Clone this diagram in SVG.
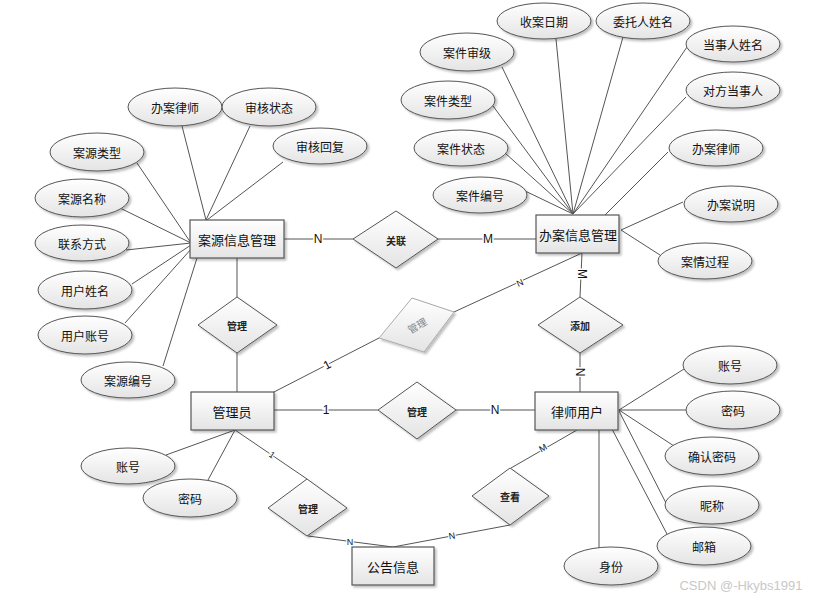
<svg xmlns="http://www.w3.org/2000/svg" width="822" height="605" viewBox="0 0 822 605">
<defs>
<linearGradient id="g" x1="0" y1="0" x2="0" y2="1">
<stop offset="0" stop-color="#ffffff"/>
<stop offset="1" stop-color="#e4e4e4"/>
</linearGradient>
<filter id="sh" x="-20%" y="-20%" width="140%" height="150%">
<feDropShadow dx="2" dy="2" stdDeviation="1" flood-color="#000" flood-opacity="0.25"/>
</filter>
</defs>
<style>
.e{fill:url(#g);stroke:#555;stroke-width:1;filter:url(#sh)}
.r{fill:url(#g);stroke:#555;stroke-width:1.2;filter:url(#sh)}
.d{fill:url(#g);stroke:#555;stroke-width:1;filter:url(#sh)}
.df{fill:url(#g);stroke:#aaa;stroke-width:1;filter:url(#sh)}
.t{font-family:"Noto Sans CJK SC","Liberation Sans",sans-serif;font-size:12px;fill:#111;text-anchor:middle;dominant-baseline:central}
.te{font-family:"Noto Sans CJK SC","Liberation Sans",sans-serif;font-size:13px;fill:#111;text-anchor:middle;dominant-baseline:central}
.td{font-family:"Noto Sans CJK SC","Liberation Sans",sans-serif;font-size:10px;font-weight:bold;fill:#222;text-anchor:middle;dominant-baseline:central}
.l{font-family:"Liberation Sans",sans-serif;font-size:12px;fill:#111;text-anchor:middle;dominant-baseline:central;stroke:#fff;stroke-width:3;paint-order:stroke}
.ls{font-family:"Liberation Sans",sans-serif;font-size:9px;fill:#111;text-anchor:middle;dominant-baseline:central;stroke:#fff;stroke-width:2.5;paint-order:stroke}
#connectors line{stroke:#555;stroke-width:1}
</style>
<rect width="822" height="605" fill="#fff"/>

<g id="connectors">
<!-- 案源信息管理 attributes -->
<line x1="182" y1="126" x2="206" y2="220"/>
<line x1="250" y1="126" x2="206" y2="220"/>
<line x1="283" y1="162" x2="207" y2="220"/>
<line x1="137" y1="163" x2="191" y2="243"/>
<line x1="120" y1="208" x2="191" y2="243"/>
<line x1="126" y1="250" x2="191" y2="243"/>
<line x1="132" y1="284" x2="191" y2="245"/>
<line x1="125" y1="323" x2="192" y2="248"/>
<line x1="163" y1="366" x2="197" y2="258"/>
<!-- 办案信息管理 attributes -->
<line x1="556" y1="39" x2="573" y2="214"/>
<line x1="623" y1="37" x2="573" y2="214"/>
<line x1="687" y1="47" x2="573" y2="214"/>
<line x1="502" y1="67" x2="573" y2="214"/>
<line x1="686" y1="97" x2="573" y2="214"/>
<line x1="493" y1="106" x2="573" y2="214"/>
<line x1="505" y1="153" x2="573" y2="214"/>
<line x1="668" y1="152" x2="605" y2="215"/>
<line x1="523" y1="190" x2="573" y2="214"/>
<line x1="683" y1="202" x2="621" y2="230"/>
<line x1="660" y1="255" x2="621" y2="230"/>
<!-- relationships -->
<line x1="284" y1="239" x2="353" y2="239"/>
<line x1="438" y1="239" x2="536" y2="239"/>
<line x1="582" y1="253" x2="580" y2="297"/>
<line x1="580" y1="353" x2="580" y2="392"/>
<line x1="274" y1="392" x2="379" y2="338"/>
<line x1="454" y1="312" x2="582" y2="253"/>
<line x1="274" y1="410" x2="378" y2="410"/>
<line x1="456" y1="410" x2="535" y2="410"/>
<line x1="237" y1="258" x2="237" y2="297"/>
<line x1="237" y1="353" x2="237" y2="392"/>
<line x1="235" y1="430" x2="307" y2="479"/>
<line x1="308" y1="536" x2="393" y2="547"/>
<line x1="577" y1="430" x2="511" y2="468"/>
<line x1="510" y1="525" x2="393" y2="547"/>
<!-- 管理员 attributes -->
<line x1="166" y1="455" x2="235" y2="430"/>
<line x1="208" y1="480" x2="235" y2="430"/>
<!-- 律师用户 attributes -->
<line x1="684" y1="369" x2="619" y2="410"/>
<line x1="686" y1="410" x2="619" y2="410"/>
<line x1="674" y1="446" x2="619" y2="410"/>
<line x1="666" y1="503" x2="619" y2="411"/>
<line x1="667" y1="534" x2="612" y2="429"/>
<line x1="599" y1="429" x2="599" y2="548"/>
</g>

<g id="labels">
<text class="l" x="318" y="239">N</text>
<text class="l" x="488" y="239">M</text>
<text class="l" transform="translate(582,274) rotate(90)">M</text>
<text class="l" transform="translate(580,372) rotate(90)">N</text>
<text class="l" transform="translate(327,365) rotate(-28)">1</text>
<text class="ls" transform="translate(520,283) rotate(-25)">N</text>
<text class="l" x="326" y="410">1</text>
<text class="l" x="495" y="410">N</text>
<text class="ls" transform="translate(272,455) rotate(34)">1</text>
<text class="ls" x="350" y="542">N</text>
<text class="ls" transform="translate(543,448) rotate(-30)">M</text>
<text class="ls" transform="translate(452,536) rotate(-10)">N</text>
</g>

<!-- entities -->
<g id="e-anyuan"><rect class="r" x="190" y="220" width="94" height="38"/><text class="te" x="237" y="239">案源信息管理</text></g>
<g id="e-banan"><rect class="r" x="536" y="215" width="83" height="38"/><text class="te" x="578" y="234">办案信息管理</text></g>
<g id="e-admin"><rect class="r" x="191" y="392" width="83" height="38"/><text class="te" x="232" y="411">管理员</text></g>
<g id="e-lawyer"><rect class="r" x="535" y="392" width="83" height="38"/><text class="te" x="577" y="411">律师用户</text></g>
<g id="e-notice"><rect class="r" x="352" y="547" width="82" height="38"/><text class="te" x="393" y="566">公告信息</text></g>

<!-- relationships -->
<g id="r-guanlian"><polygon class="d" points="396,211 438,239 396,268 353,239"/><text class="td" x="396" y="240">关联</text></g>
<g id="r-guanli1"><polygon class="d" points="237,297 277,325 237,353 198,325"/><text class="td" x="237" y="325">管理</text></g>
<g id="r-guanli-faint"><polygon class="df" points="412,298 454,312 424,352 379,338"/><text class="td" style="fill:#888;font-weight:normal" transform="translate(417,325) rotate(-30)">管理</text></g>
<g id="r-tianjia"><polygon class="d" points="580,297 623,325 580,353 538,325"/><text class="td" x="580" y="325">添加</text></g>
<g id="r-guanli2"><polygon class="d" points="417,382 456,410 417,439 378,410"/><text class="td" x="417" y="411">管理</text></g>
<g id="r-guanli3"><polygon class="d" points="307,479 347,508 307,536 268,508"/><text class="td" x="308" y="508">管理</text></g>
<g id="r-chakan"><polygon class="d" points="510,468 549,496 510,525 472,496"/><text class="td" x="510" y="496">查看</text></g>

<!-- attributes of 案源信息管理 -->
<g id="a-blls1"><ellipse class="e" cx="175" cy="107" rx="47" ry="19"/><text class="t" x="175" y="107">办案律师</text></g>
<g id="a-shzt"><ellipse class="e" cx="269" cy="107" rx="47" ry="19"/><text class="t" x="269" y="107">审核状态</text></g>
<g id="a-shhf"><ellipse class="e" cx="320" cy="146" rx="47" ry="18"/><text class="t" x="320" y="146">审核回复</text></g>
<g id="a-aylx"><ellipse class="e" cx="97" cy="152" rx="47" ry="19"/><text class="t" x="97" y="152">案源类型</text></g>
<g id="a-aymc"><ellipse class="e" cx="82" cy="198" rx="47" ry="19"/><text class="t" x="82" y="198">案源名称</text></g>
<g id="a-lxfs"><ellipse class="e" cx="82" cy="243" rx="47" ry="18"/><text class="t" x="82" y="243">联系方式</text></g>
<g id="a-yhxm"><ellipse class="e" cx="85" cy="290" rx="47" ry="19"/><text class="t" x="85" y="290">用户姓名</text></g>
<g id="a-yhzh"><ellipse class="e" cx="85" cy="335" rx="47" ry="19"/><text class="t" x="85" y="335">用户账号</text></g>
<g id="a-aybh"><ellipse class="e" cx="128" cy="380" rx="47" ry="18"/><text class="t" x="128" y="380">案源编号</text></g>

<!-- attributes of 办案信息管理 -->
<g id="a-sarq"><ellipse class="e" cx="544" cy="21" rx="47" ry="18"/><text class="t" x="544" y="21">收案日期</text></g>
<g id="a-wtrxm"><ellipse class="e" cx="643" cy="21" rx="47" ry="18"/><text class="t" x="643" y="21">委托人姓名</text></g>
<g id="a-dsrxm"><ellipse class="e" cx="733" cy="44" rx="47" ry="18"/><text class="t" x="733" y="44">当事人姓名</text></g>
<g id="a-ajsj"><ellipse class="e" cx="467" cy="52" rx="47" ry="19"/><text class="t" x="467" y="52">案件审级</text></g>
<g id="a-ajlx"><ellipse class="e" cx="448" cy="100" rx="47" ry="19"/><text class="t" x="448" y="100">案件类型</text></g>
<g id="a-dfdsr"><ellipse class="e" cx="733" cy="90" rx="47" ry="18"/><text class="t" x="733" y="90">对方当事人</text></g>
<g id="a-ajzt"><ellipse class="e" cx="461" cy="148" rx="47" ry="18"/><text class="t" x="461" y="148">案件状态</text></g>
<g id="a-blls2"><ellipse class="e" cx="716" cy="148" rx="47" ry="18"/><text class="t" x="716" y="148">办案律师</text></g>
<g id="a-ajbh"><ellipse class="e" cx="480" cy="195" rx="47" ry="18"/><text class="t" x="480" y="195">案件编号</text></g>
<g id="a-basm"><ellipse class="e" cx="731" cy="204" rx="47" ry="18"/><text class="t" x="731" y="204">办案说明</text></g>
<g id="a-aqgc"><ellipse class="e" cx="705" cy="261" rx="47" ry="18"/><text class="t" x="705" y="261">案情过程</text></g>

<!-- attributes of 管理员 -->
<g id="a-zh1"><ellipse class="e" cx="128" cy="466" rx="47" ry="18"/><text class="t" x="128" y="466">账号</text></g>
<g id="a-mm1"><ellipse class="e" cx="190" cy="498" rx="47" ry="19"/><text class="t" x="190" y="498">密码</text></g>

<!-- attributes of 律师用户 -->
<g id="a-zh2"><ellipse class="e" cx="730" cy="365" rx="47" ry="19"/><text class="t" x="730" y="365">账号</text></g>
<g id="a-mm2"><ellipse class="e" cx="733" cy="410" rx="47" ry="19"/><text class="t" x="733" y="410">密码</text></g>
<g id="a-qrmm"><ellipse class="e" cx="712" cy="456" rx="47" ry="19"/><text class="t" x="712" y="456">确认密码</text></g>
<g id="a-nc"><ellipse class="e" cx="712" cy="505" rx="47" ry="19"/><text class="t" x="712" y="505">昵称</text></g>
<g id="a-yx"><ellipse class="e" cx="704" cy="546" rx="47" ry="19"/><text class="t" x="704" y="546">邮箱</text></g>
<g id="a-sf"><ellipse class="e" cx="611" cy="566" rx="47" ry="19"/><text class="t" x="611" y="566">身份</text></g>

<text x="741" y="590" style="font-family:'Liberation Sans',sans-serif;font-size:13px;fill:#c8c8c8;text-anchor:middle">CSDN @-Hkybs1991</text>
</svg>
